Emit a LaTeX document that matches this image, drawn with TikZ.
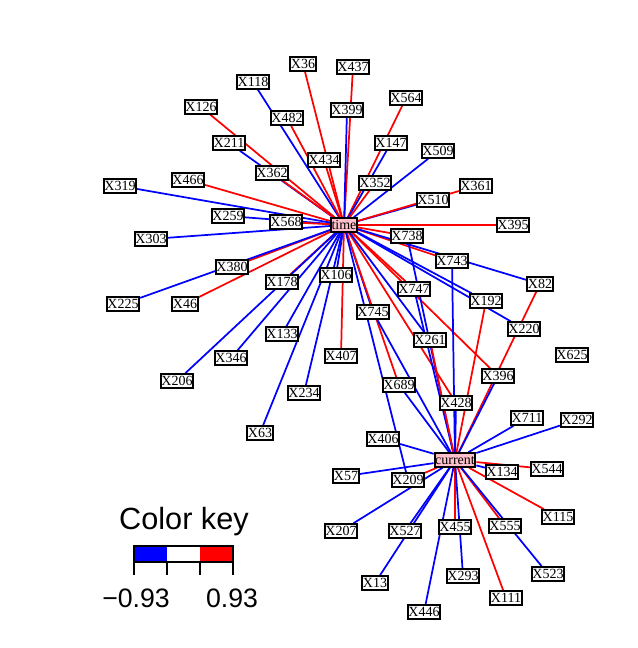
\documentclass[tikz,border=0pt]{standalone}
\usepackage{fontspec}
\setmainfont{Liberation Serif}
\newfontfamily\keyfont{Liberation Sans}
\usepackage{tikz}
\usetikzlibrary{backgrounds}
\definecolor{hubpink}{RGB}{255,192,203}

\begin{document}
\begin{tikzpicture}[x=0.75pt,y=-0.75pt,
  var/.style={draw,line width=1.5pt,fill=white,inner xsep=0.4pt,inner ysep=1.4pt,
    text height=7.3pt,text depth=0pt,font=\fontsize{10.5}{12}\selectfont},
  hub/.style={var,fill=hubpink},
  edge/.style={line width=1.3pt}]
\useasboundingbox (0,0) rectangle (637,648);
\node[hub] (time) at (344,225) {time};
\node[hub] (current) at (455,460) {current};
\foreach \n/\x/\y in {36/303/64, 437/353/67, 118/253/82, 564/406/98, 126/201/107,
    399/347/110, 482/287/118, 211/229/143, 147/391/143, 509/438/151, 434/324/160,
    362/272/173, 466/188/180, 352/375/183, 319/120/186, 361/476/186, 510/433/200,
    259/228/216, 568/286/222, 395/513/225, 303/151/239, 738/407/236, 743/452/261,
    380/232/267, 106/336/275, 178/282/282, 82/540/284, 747/414/289, 192/486/301,
    225/123/304, 46/185/304, 745/373/312, 220/524/329, 133/282/334, 261/430/340,
    625/572/355, 407/341/356, 346/231/358, 396/498/376, 206/177/381, 689/399/385,
    234/304/393, 428/456/403, 711/527/418, 292/577/420, 63/260/433, 406/383/439,
    544/547/469, 134/502/472, 57/346/476, 209/408/480, 115/558/517, 555/505/526,
    455/455/527, 207/341/531, 527/405/531, 523/548/574, 293/463/576, 13/375/583,
    111/506/598, 446/424/612}
  \node[var] (x\n) at (\x,\y) {X\n};
\begin{scope}[on background layer]
\foreach \n/\c in {36/red, 118/blue, 482/red, 126/red, 211/blue, 362/red, 434/red,
    466/red, 319/blue, 259/blue, 568/red, 303/blue, 380/red, 225/blue, 46/red,
    178/red, 346/blue, 206/blue, 133/blue, 63/blue, 106/blue, 234/blue, 407/red,
    437/red, 399/blue, 564/red, 147/blue, 352/red, 509/blue, 510/blue, 361/red,
    395/red, 738/red, 743/red, 82/blue, 192/blue, 220/blue, 747/red, 396/red,
    745/blue, 689/red, 428/red, 209/blue, 261/blue}
  \draw[edge,\c] (time) -- (x\n);
\foreach \n/\c in {743/blue, 738/blue, 747/blue, 261/red, 428/blue, 192/red, 82/red,
    396/blue, 745/blue, 689/blue, 406/blue, 711/blue, 292/blue, 57/blue, 209/red,
    207/blue, 527/blue, 13/blue, 446/blue, 455/red, 293/blue, 111/red, 555/red,
    523/blue, 115/red, 134/blue, 544/red}
  \draw[edge,\c] (current) -- (x\n);
\end{scope}
% colour key
\node[font=\keyfont\fontsize{23}{26}\selectfont] (keytitle) at (184,522) {Color key};
\fill[blue] (134,546) rectangle (167,562);
\fill[red] (200,546) rectangle (233,562);
\draw[line width=1.1pt] (134,546) rectangle (233,562);
\foreach \t in {134,167,200,233}
  \draw[line width=1.1pt] (\t,562) -- (\t,575);
\node[font=\keyfont\fontsize{20}{24}\selectfont] (keylow) at (136,598) {−0.93};
\node[font=\keyfont\fontsize{20}{24}\selectfont] (keyhigh) at (232,598) {0.93};
\end{tikzpicture}
\end{document}
